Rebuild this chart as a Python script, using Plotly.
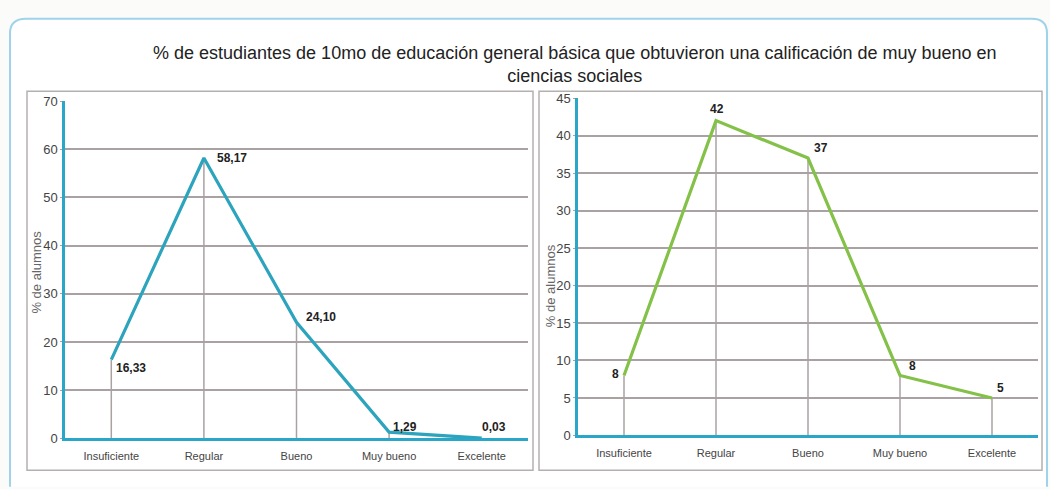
import plotly.graph_objects as go

categorias = ["Insuficiente", "Regular", "Bueno", "Muy bueno", "Excelente"]
valores_izq = [16.33, 58.17, 24.10, 1.29, 0.03]
etiquetas_izq = ["16,33", "58,17", "24,10", "1,29", "0,03"]
valores_der = [8, 42, 37, 8, 5]
etiquetas_der = ["8", "42", "37", "8", "5"]
ticks_izq = [0, 10, 20, 30, 40, 50, 60, 70]
ticks_der = [0, 5, 10, 15, 20, 25, 30, 35, 40, 45]

titulo = ("% de estudiantes de 10mo de educación general básica que obtuvieron una calificación de muy bueno en"
          "<br>ciencias sociales")
titulo_y = "% de alumnos"

W, H = 1050, 489
def px(x):
    return x / W
def py(y):
    return 1 - y / H

TEAL_AXIS = "#2aa6c8"
TEAL_LINE = "#2ca4bd"
GREEN = "#84c148"
GRID = "#aaa2a2"
NARROW = "Liberation Sans Narrow, Arial Narrow, Arial"

# label placement styles (anchor, xshift, yshift) per point
pos_izq = [("left", 3, -8), ("left", 11, 0), ("left", 7, 5), ("left", 2, 5), ("center", 12, 11)]
pos_der = [("right", -3, 1), ("center", 1, 12), ("left", 4, 10), ("left", 7, 9), ("left", 3, 10)]

fig = go.Figure()

def drops(vals):
    xs, ys = [], []
    for c, v in zip(categorias, vals):
        xs += [c, c, None]
        ys += [0, v, None]
    return xs, ys

# left chart
dx, dy = drops(valores_izq)
fig.add_trace(go.Scatter(x=dx, y=dy, mode="lines", line=dict(color=GRID, width=1.5),
                         xaxis="x", yaxis="y", hoverinfo="skip", showlegend=False))
fig.add_trace(go.Scatter(x=categorias, y=valores_izq, mode="lines",
                         line=dict(color=TEAL_LINE, width=3.2), xaxis="x", yaxis="y", showlegend=False))
# right chart
dx, dy = drops(valores_der)
fig.add_trace(go.Scatter(x=dx, y=dy, mode="lines", line=dict(color=GRID, width=1.5),
                         xaxis="x2", yaxis="y2", hoverinfo="skip", showlegend=False))
fig.add_trace(go.Scatter(x=categorias, y=valores_der, mode="lines",
                         line=dict(color=GREEN, width=3.2), xaxis="x2", yaxis="y2", showlegend=False))

for (xr, yr, vals, labs, pos) in [("x", "y", valores_izq, etiquetas_izq, pos_izq),
                                   ("x2", "y2", valores_der, etiquetas_der, pos_der)]:
    for c, v, t, (anc, xs, ys) in zip(categorias, vals, labs, pos):
        fig.add_annotation(x=c, y=v, xref=xr, yref=yr, text=f"<b>{t}</b>", showarrow=False,
                           xanchor=anc, yanchor="middle", xshift=xs, yshift=ys,
                           font=dict(family="Liberation Sans, Arial", size=12, color="#222"))

xcommon = dict(type="category", range=[-0.5, 4.5], showgrid=False, showline=True,
               linecolor=TEAL_AXIS, linewidth=2.5, ticks="outside", ticklen=6,
               tickcolor="rgba(0,0,0,0)", zeroline=False,
               tickfont=dict(family=NARROW, size=11, color="#444"))
ycommon = dict(showgrid=True, gridcolor=GRID, gridwidth=1.5, showline=True, linecolor=TEAL_AXIS,
               linewidth=2.5, ticks="outside", ticklen=2, tickcolor=GRID, zeroline=False,
               tickfont=dict(family=NARROW, size=13, color="#444"))

fig.update_layout(
    width=W, height=H,
    margin=dict(l=0, r=0, t=0, b=0),
    paper_bgcolor="#fbfbfa", plot_bgcolor="rgba(0,0,0,0)",
    xaxis=dict(domain=[px(65), px(528)], anchor="y", **xcommon),
    yaxis=dict(domain=[py(445), py(97)], anchor="x", range=[0, 70], tickvals=ticks_izq, **ycommon),
    xaxis2=dict(domain=[px(578), px(1038)], anchor="y2", **xcommon),
    yaxis2=dict(domain=[py(442), py(94)], anchor="x2", range=[0, 45], tickvals=ticks_der, **ycommon),
    showlegend=False,
)

shapes = [
    dict(type="path", xref="paper", yref="paper", layer="below",
         path=f"M {px(10)} {py(495)} L {px(10)} {py(27)} Q {px(10)} {py(12)} {px(26)} {py(12)} "
              f"L {px(1032)} {py(12)} Q {px(1047)} {py(12)} {px(1047)} {py(27)} L {px(1047)} {py(495)}",
         line=dict(color="#9fd3ea", width=2), fillcolor="#ffffff"),
    dict(type="rect", xref="paper", yref="paper", layer="below",
         x0=px(27), x1=px(533), y0=py(478), y1=py(87), line=dict(color="#b5b0b0", width=1.5),
         fillcolor="#ffffff"),
    dict(type="rect", xref="paper", yref="paper", layer="below",
         x0=px(539), x1=px(1042), y0=py(478), y1=py(87), line=dict(color="#b5b0b0", width=1.5),
         fillcolor="#ffffff"),
]
fig.update_layout(shapes=shapes)

fig.add_annotation(text=titulo, xref="paper", yref="paper", x=px(575), y=py(59),
                   showarrow=False, xanchor="center", yanchor="middle",
                   font=dict(family="Liberation Sans, Arial", size=18, color="#222"))
for xt, yt in [(37, 274), (550, 288)]:
    fig.add_annotation(text=titulo_y, xref="paper", yref="paper", x=px(xt), y=py(yt),
                       showarrow=False, textangle=-90, xanchor="center", yanchor="middle",
                       font=dict(family="Liberation Sans, Arial", size=13, color="#666"))

fig.write_html("out.html", config={"displayModeBar": False},
               post_script="document.body.style.margin='0';")
